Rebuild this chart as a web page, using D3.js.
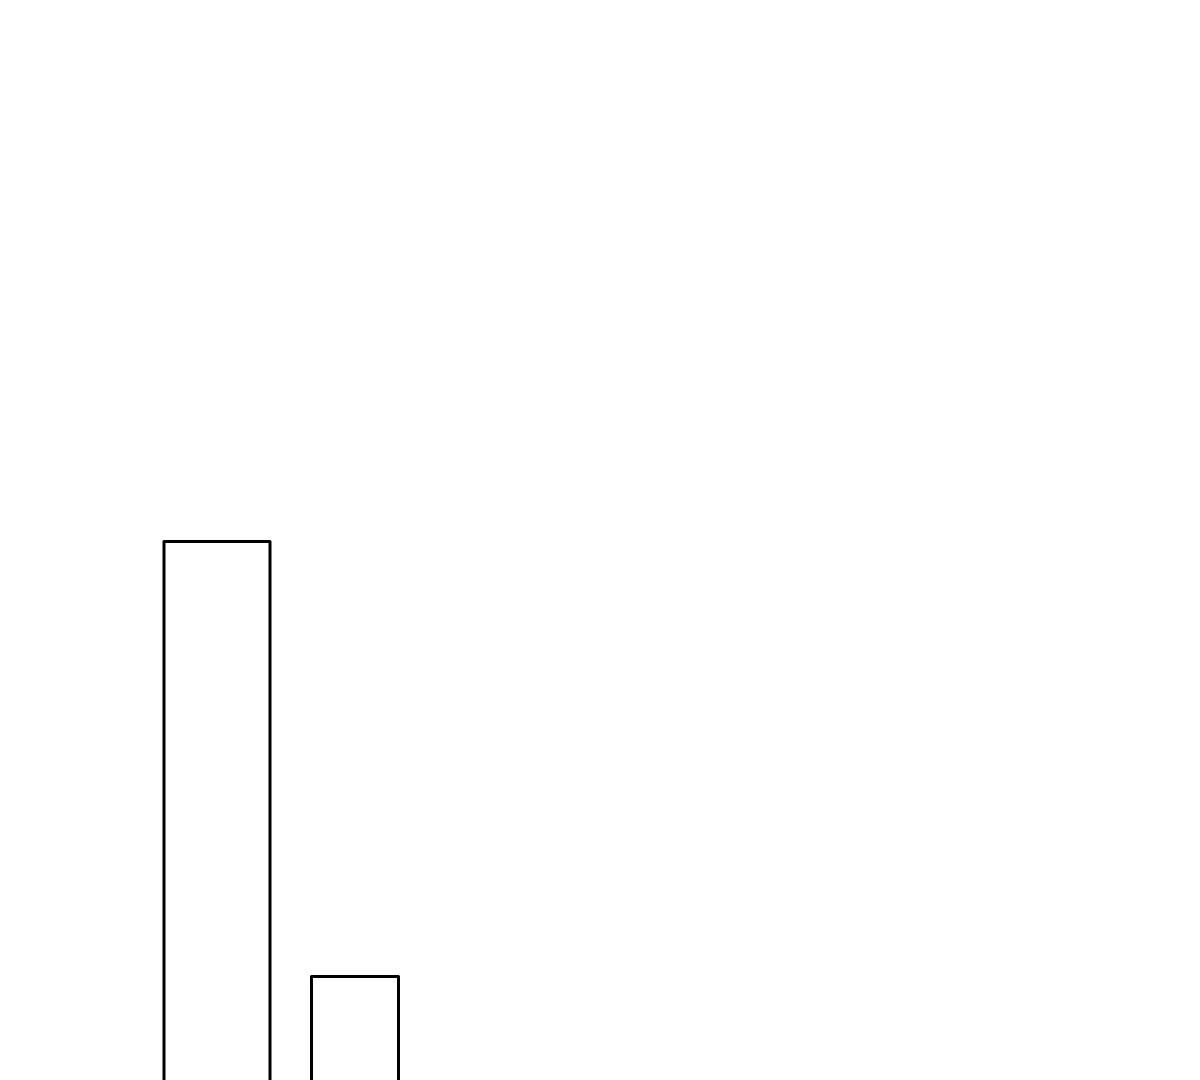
<!DOCTYPE html>
<html>
<head>
<meta charset="utf-8">
<script src="https://cdn.jsdelivr.net/npm/d3@7"></script>
<style>
  html, body { margin: 0; padding: 0; background: #fff; overflow: hidden; }
</style>
</head>
<body>
<div id="chart"></div>
<script>
// bar data: left edge, right edge (x units) and height (y units)
var categories = ["A", "B"];
var xStarts = [1.64, 3.115];
var xEnds = [2.70, 3.985];
var values = [100, 22.1];

var width = 1200
    , height = 1080

var svg = d3.select("#chart")
    .append("svg")
    .attr("width", width)
    .attr("height", height);

var xScale = d3.scaleLinear().domain([0, 12]).range([0, width]);
// baseline sits just below the visible area
var yScale = d3.scaleLinear().domain([0, 100]).range([1100, 541.5]);

var bars = categories.map(function (c, i) {
    return { cat: c, x0: xStarts[i], x1: xEnds[i], v: values[i] };
});

svg.selectAll("rect.bar")
    .data(bars)
    .enter()
    .append("rect")
    .attr("class", "bar")
    .attr("x", d => xScale(d.x0))
    .attr("width", d => xScale(d.x1) - xScale(d.x0))
    .attr("y", d => yScale(d.v))
    .attr("height", d => yScale(0) - yScale(d.v))
    .attr("fill", "none")
    .attr("stroke", "#000")
    .attr("stroke-width", 3)
    .attr("stroke-linejoin", "round");
</script>
</body>
</html>
